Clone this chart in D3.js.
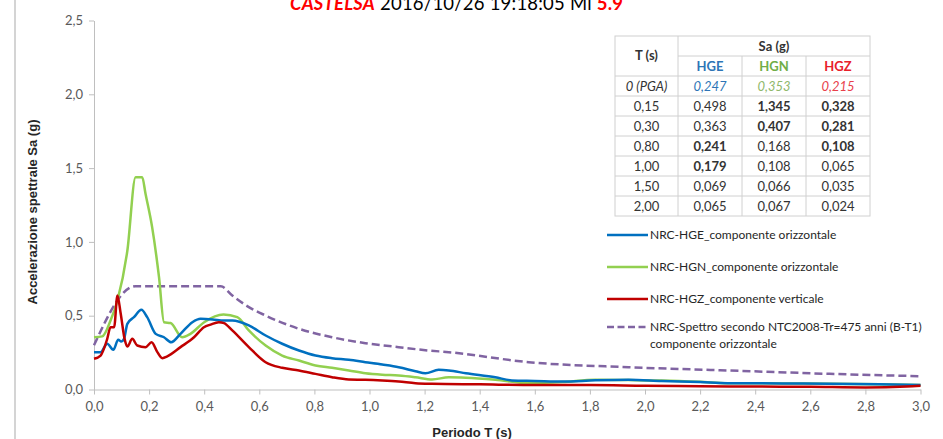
<!DOCTYPE html>
<html><head><meta charset="utf-8">
<script src="https://cdn.jsdelivr.net/npm/d3@7"></script>
<style>
html,body{margin:0;padding:0;background:#fff;}
svg{display:block;}
</style></head>
<body>
<svg id="chart" width="943" height="439"></svg>
<script>
// ---------- data ----------
const xTicks = [0,0.2,0.4,0.6,0.8,1.0,1.2,1.4,1.6,1.8,2.0,2.2,2.4,2.6,2.8,3.0];
const yTicks = [0,0.5,1.0,1.5,2.0,2.5];

const hgeT = [0,.024,.048,.07,.088,.099,.109,.121,.145,.172,.193,.224,.254,.28,.314,.357,.387,.43,.472,.502,.562,.623,.683,.744,.804,.864,.925,.985,1.046,1.106,1.167,1.203,1.251,1.288,1.35,1.457,1.517,1.6,1.7,1.82,1.94,2.06,2.2,2.3,2.5,2.67,2.85,3.0];
const hgeV = [.253,.253,.31,.269,.337,.325,.343,.445,.49,.54,.49,.377,.354,.32,.377,.456,.479,.475,.467,.467,.434,.366,.31,.264,.23,.212,.201,.185,.169,.151,.124,.11,.133,.129,.11,.083,.061,.058,.054,.062,.066,.058,.05,.043,.041,.039,.035,.03];

const hgnT = [0,.03,.06,.085,.121,.151,.175,.187,.211,.236,.254,.278,.32,.35,.40,.47,.52,.562,.623,.683,.744,.804,.864,.925,.985,1.046,1.106,1.167,1.227,1.288,1.35,1.457,1.578,1.7,1.82,1.94,2.06,2.2,2.3,2.5,2.67,2.85,3.0];
const hgnV = [.354,.36,.467,.603,.94,1.438,1.438,1.326,1.10,.761,.456,.45,.354,.377,.456,.508,.49,.40,.298,.23,.196,.163,.147,.129,.11,.10,.095,.083,.068,.083,.08,.066,.043,.05,.066,.064,.061,.052,.043,.041,.039,.035,.03];

const hgzT = [0,.024,.048,.06,.073,.085,.097,.111,.121,.139,.157,.187,.209,.23,.248,.266,.314,.363,.399,.423,.453,.472,.502,.562,.623,.683,.744,.804,.864,.925,.985,1.046,1.106,1.167,1.227,1.4,1.6,1.8,2.0,2.2,2.4,2.6,2.8,2.95,3.0];
const hgzV = [.208,.23,.343,.422,.422,.637,.513,.343,.291,.343,.298,.287,.32,.253,.212,.224,.287,.354,.422,.44,.456,.45,.40,.287,.185,.147,.129,.106,.083,.068,.066,.061,.054,.043,.039,.035,.03,.03,.025,.022,.02,.018,.014,.02,.025];

const ntcT = [0,.15,.46,.502,.562,.623,.744,.864,.985,1.106,1.215,1.288,1.578,1.94,2.30,2.67,3.0];
const ntcV = [.30,.70,.70,.637,.558,.501,.411,.354,.314,.287,.264,.253,.185,.151,.129,.106,.09];

const seriesNames = ["NRC-HGE_componente orizzontale","NRC-HGN_componente orizzontale","NRC-HGZ_componente verticale","NRC-Spettro secondo NTC2008-Tr=475 anni (B-T1)","componente orizzontale"];

// table
const tabT   = ["0 (PGA)","0,15","0,30","0,80","1,00","1,50","2,00"];
const tabHGE = ["0,247","0,498","0,363","0,241","0,179","0,069","0,065"];
const tabHGN = ["0,353","1,345","0,407","0,168","0,108","0,066","0,067"];
const tabHGZ = ["0,215","0,328","0,281","0,108","0,065","0,035","0,024"];
const boldHGE = [0,0,0,1,1,0,0];
const boldHGN = [0,1,1,0,0,0,0];
const boldHGZ = [0,1,1,1,0,0,0];

// ---------- drawing ----------
const svg = d3.select("#chart");
const C = {blue:"#0070c0", green:"#92d050", red:"#c00000", purple:"#8064a2"};
const tickFont = "Lato, 'Open Sans', sans-serif";
const x = d3.scaleLinear().domain([0,3]).range([94,920.5]);
const y = d3.scaleLinear().domain([0,2.5]).range([389.5,20.5]);
const fmt = d => d.toFixed(1).replace(".",",");

// left frame line
svg.append("line").attr("x1",15).attr("x2",15).attr("y1",0).attr("y2",439)
  .attr("stroke","#d4d4d4").attr("stroke-width",2);

// title
const title = svg.append("text").attr("x",290).attr("y",10)
  .attr("font-family","Lato, sans-serif").attr("font-size",18.5);
title.append("tspan").attr("fill","#ff0000").attr("font-weight","bold").attr("font-style","italic").text("CASTELSA");
title.append("tspan").attr("fill","#000").text(" 2016/10/26 19:18:05 Ml ");
title.append("tspan").attr("fill","#ff0000").attr("font-weight","bold").text("5.9");
title.attr("textLength",333).attr("lengthAdjust","spacing");

// axes
const xAxis = svg.append("g").attr("transform","translate(0,389.5)")
  .call(d3.axisBottom(x).tickValues(xTicks).tickFormat(fmt).tickSize(5).tickSizeOuter(0));
const yAxis = svg.append("g").attr("transform","translate(94,0)")
  .call(d3.axisLeft(y).tickValues(yTicks).tickFormat(fmt).tickSize(5).tickSizeOuter(0));
[xAxis,yAxis].forEach(a=>{
  a.select(".domain").attr("stroke","#bfbfbf");
  a.selectAll(".tick line").attr("stroke","#bfbfbf");
  a.selectAll(".tick text").attr("fill","#595959").attr("font-family",tickFont).attr("font-size",13);
});
xAxis.selectAll(".tick text").attr("dy","1.05em");
yAxis.selectAll(".tick text").attr("x",-11);

// axis titles
svg.append("text").attr("transform","translate(37,212) rotate(-90)").attr("text-anchor","middle")
  .attr("font-family","'Liberation Sans', Arial, sans-serif").attr("font-weight","bold").attr("font-size",13)
  .attr("fill","#262626").text("Accelerazione spettrale Sa (g)");
svg.append("text").attr("x",472).attr("y",437).attr("text-anchor","middle")
  .attr("font-family","'Liberation Sans', Arial, sans-serif").attr("font-weight","bold").attr("font-size",13)
  .attr("fill","#262626").text("Periodo T (s)");

// lines
const line = d3.line().x(d=>x(d[0])).y(d=>y(d[1])).curve(d3.curveMonotoneX);
const zip = (a,b)=>a.map((t,i)=>[t,b[i]]);
svg.append("path").datum(zip(ntcT,ntcV)).attr("d",line).attr("fill","none")
  .attr("stroke",C.purple).attr("stroke-width",2.5).attr("stroke-dasharray","8,4");
svg.append("path").datum(zip(hgnT,hgnV)).attr("d",line).attr("fill","none")
  .attr("stroke",C.green).attr("stroke-width",2.5).attr("stroke-linejoin","round");
svg.append("path").datum(zip(hgeT,hgeV)).attr("d",line).attr("fill","none")
  .attr("stroke",C.blue).attr("stroke-width",2.5).attr("stroke-linejoin","round");
svg.append("path").datum(zip(hgzT,hgzV)).attr("d",line).attr("fill","none")
  .attr("stroke",C.red).attr("stroke-width",2.5).attr("stroke-linejoin","round");

// legend
const legFont = "Lato, 'Open Sans', sans-serif";
const legItems = [
  {c:C.blue, dash:null, y:235, t:[seriesNames[0]]},
  {c:C.green, dash:null, y:267, t:[seriesNames[1]]},
  {c:C.red, dash:null, y:299, t:[seriesNames[2]]},
  {c:C.purple, dash:"7,3.5", y:327, t:[seriesNames[3],seriesNames[4]]}
];
legItems.forEach(it=>{
  svg.append("line").attr("x1",607).attr("x2",648).attr("y1",it.y).attr("y2",it.y)
    .attr("stroke",it.c).attr("stroke-width",2.5).attr("stroke-dasharray",it.dash);
  it.t.forEach((s,i)=>{
    svg.append("text").attr("x",650).attr("y",it.y+4+i*16.5).attr("font-family",legFont)
      .attr("font-size",12).attr("fill","#262626").text(s);
  });
});

// table
const tb = svg.append("g");
const colX = [615,678,742,806,870];
const rowY0 = 36, h1 = 20, h2 = 20, rh = 20;
const top2 = rowY0+h1, dataTop = top2+h2, bottom = dataTop+rh*tabT.length;
tb.append("rect").attr("x",colX[0]).attr("y",rowY0).attr("width",colX[4]-colX[0]).attr("height",bottom-rowY0)
  .attr("fill","#fff").attr("stroke","#d0d0d0");
const gl = "#d0d0d0";
tb.append("line").attr("x1",colX[1]).attr("x2",colX[1]).attr("y1",rowY0).attr("y2",bottom).attr("stroke",gl);
[2,3].forEach(i=>tb.append("line").attr("x1",colX[i]).attr("x2",colX[i]).attr("y1",top2).attr("y2",bottom).attr("stroke",gl));
tb.append("line").attr("x1",colX[1]).attr("x2",colX[4]).attr("y1",top2).attr("y2",top2).attr("stroke",gl);
for(let i=0;i<tabT.length;i++){
  const yy = dataTop+rh*i;
  tb.append("line").attr("x1",colX[0]).attr("x2",colX[4]).attr("y1",yy).attr("y2",yy).attr("stroke",gl);
}
const cx = i=>(colX[i]+colX[i+1])/2;
const tt = (x0,y0,s,opt={})=>tb.append("text").attr("x",x0).attr("y",y0).attr("text-anchor","middle")
  .attr("dominant-baseline","central").attr("font-family",legFont).attr("font-size",13)
  .attr("fill",opt.fill||"#333").attr("font-weight",opt.bold?"bold":null).attr("font-style",opt.italic?"italic":null).text(s);
tt(cx(0),rowY0+(h1+h2)/2-1,"T (s)",{bold:true});
tt((colX[1]+colX[4])/2,rowY0+h1/2,"Sa (g)",{bold:true});
tt(cx(1),top2+h2/2,"HGE",{bold:true,fill:"#2e75b6"});
tt(cx(2),top2+h2/2,"HGN",{bold:true,fill:"#70ad47"});
tt(cx(3),top2+h2/2,"HGZ",{bold:true,fill:"#e8202a"});
tabT.forEach((t,i)=>{
  const yy = dataTop+rh*i+rh/2;
  const pga = i===0;
  tt(cx(0),yy,t,{italic:pga});
  tt(cx(1),yy,tabHGE[i],{italic:pga,bold:boldHGE[i],fill:pga?"#2e75b6":"#333"});
  tt(cx(2),yy,tabHGN[i],{italic:pga,bold:boldHGN[i],fill:pga?"#8fb86b":"#333"});
  tt(cx(3),yy,tabHGZ[i],{italic:pga,bold:boldHGZ[i],fill:pga?"#e8404a":"#333"});
});
</script>
</body></html>
